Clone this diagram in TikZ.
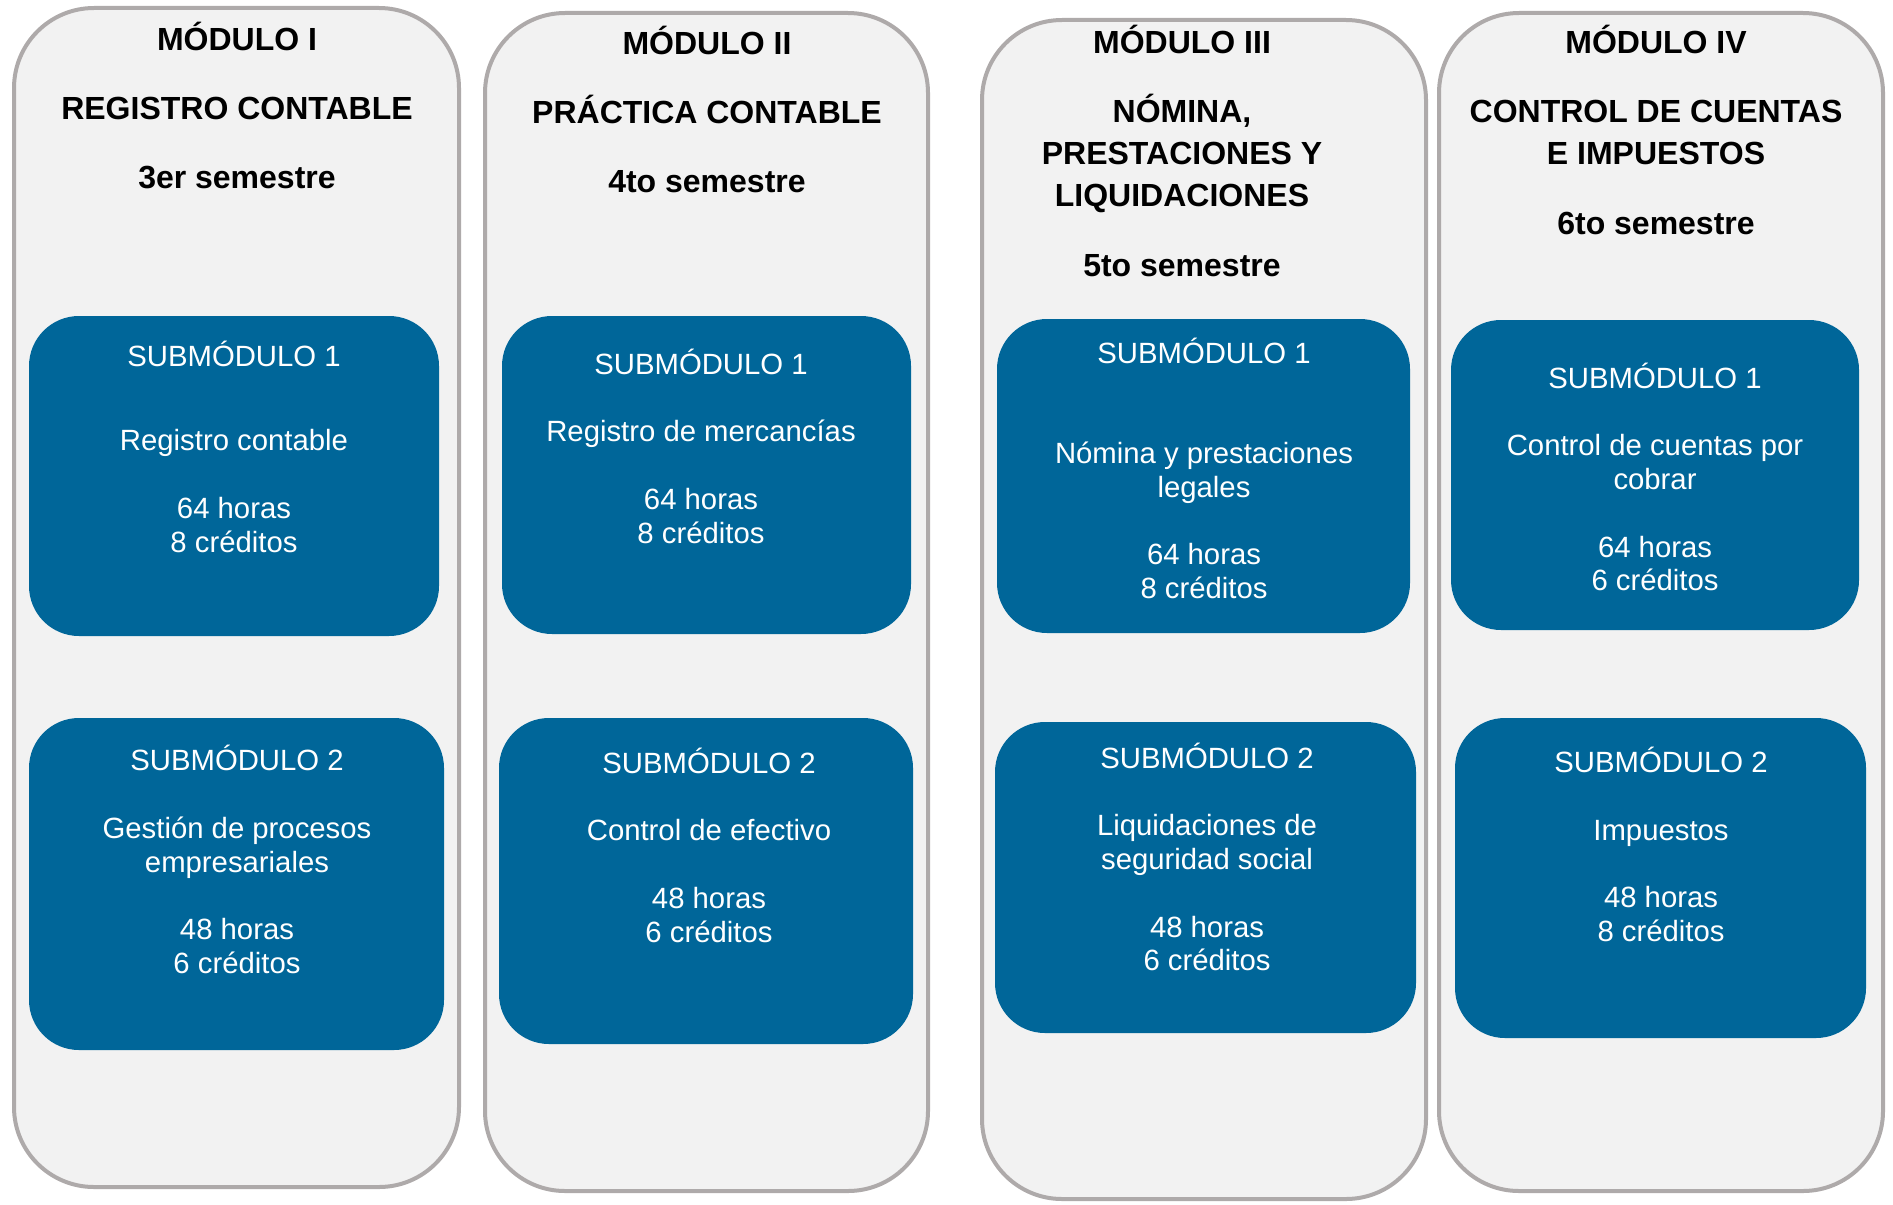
\documentclass[tikz,border=0pt]{standalone}
\usepackage{fontspec}
\setmainfont{Liberation Sans}
\usepackage{tikz}
\usetikzlibrary{positioning}

\definecolor{modfill}{HTML}{F2F2F2}
\definecolor{modline}{HTML}{AEAAAA}
\definecolor{subblue}{HTML}{006699}

\tikzset{
  modbox/.style={draw=modline, line width=2pt, fill=modfill, rounded corners=40pt,
    inner sep=0pt, outer sep=0pt},
  subbox/.style={fill=subblue, rounded corners=25pt, inner sep=0pt, outer sep=0pt},
  headtxt/.style={align=center, inner sep=0pt, font=\fontsize{16}{21}\selectfont\bfseries},
  subtxt/.style={align=center, inner sep=0pt, text=white, font=\fontsize{14.65}{16.9}\selectfont}
}

\begin{document}
\begin{tikzpicture}[x=0.5pt, y=-0.5pt]
    \useasboundingbox (0,0) rectangle (1893,1204);

    % Draw module columns
    \node[modbox, minimum width=222.5pt, minimum height=589.5pt] (m1) at (236.5,597.5) {};
    \node[modbox, minimum width=221.5pt, minimum height=589pt] (m2) at (706.5,602) {};
    \node[modbox, minimum width=222pt, minimum height=589.5pt] (m3) at (1204,609.5) {};
    \node[modbox, minimum width=222pt, minimum height=589pt] (m4) at (1661,602) {};

    % Module headings
    \node[headtxt] (h1) at (237,105.5) {MÓDULO I\\[13.5pt]REGISTRO CONTABLE\\[13.5pt]3er semestre};
    \node[headtxt] (h2) at (707,109.5) {MÓDULO II\\[13.5pt]PRÁCTICA CONTABLE\\[13.5pt]4to semestre};
    \node[headtxt] (h3) at (1182,151) {MÓDULO III\\[13.5pt]NÓMINA,\\PRESTACIONES Y\\LIQUIDACIONES\\[14pt]5to semestre};
    \node[headtxt] (h4) at (1656,129.5) {MÓDULO IV\\[13.5pt]CONTROL DE CUENTAS\\E IMPUESTOS\\[14pt]6to semestre};

    % Draw submodule boxes
    \node[subbox, minimum width=205pt, minimum height=160pt] (s11) at (234,476) {};
    \node[subbox, minimum width=207.5pt, minimum height=166pt] (s12) at (236.5,884) {};
    \node[subbox, minimum width=204.5pt, minimum height=159pt] (s21) at (706.5,475) {};
    \node[subbox, minimum width=207pt, minimum height=163pt] (s22) at (706,881) {};
    \node[subbox, minimum width=206.5pt, minimum height=157pt] (s31) at (1203.5,476) {};
    \node[subbox, minimum width=210.5pt, minimum height=155.5pt] (s32) at (1205.5,877.5) {};
    \node[subbox, minimum width=204pt, minimum height=155pt] (s41) at (1655,475) {};
    \node[subbox, minimum width=205.5pt, minimum height=160pt] (s42) at (1660.5,878) {};

    % Submodule texts
    \node[subtxt] (t11) at (234,447) {SUBMÓDULO 1\\[25pt]Registro contable\\[16.9pt]64 horas\\8 créditos};
    \node[subtxt] (t12) at (237,859.5) {SUBMÓDULO 2\\[16.9pt]Gestión de procesos\\empresariales\\[16.9pt]48 horas\\6 créditos};
    \node[subtxt] (t21) at (701,446) {SUBMÓDULO 1\\[16.9pt]Registro de mercancías\\[16.9pt]64 horas\\8 créditos};
    \node[subtxt] (t22) at (709,845) {SUBMÓDULO 2\\[16.9pt]Control de efectivo\\[16.9pt]48 horas\\6 créditos};
    \node[subtxt] (t31) at (1204,468.5) {SUBMÓDULO 1\\[33.1pt]Nómina y prestaciones\\legales\\[16.9pt]64 horas\\8 créditos};
    \node[subtxt] (t32) at (1207,857) {SUBMÓDULO 2\\[16.9pt]Liquidaciones de\\seguridad social\\[16.9pt]48 horas\\6 créditos};
    \node[subtxt] (t41) at (1655,477) {SUBMÓDULO 1\\[16.9pt]Control de cuentas por\\cobrar\\[16.9pt]64 horas\\6 créditos};
    \node[subtxt] (t42) at (1661,844.5) {SUBMÓDULO 2\\[16.9pt]Impuestos\\[16.9pt]48 horas\\8 créditos};

\end{tikzpicture}
\end{document}
